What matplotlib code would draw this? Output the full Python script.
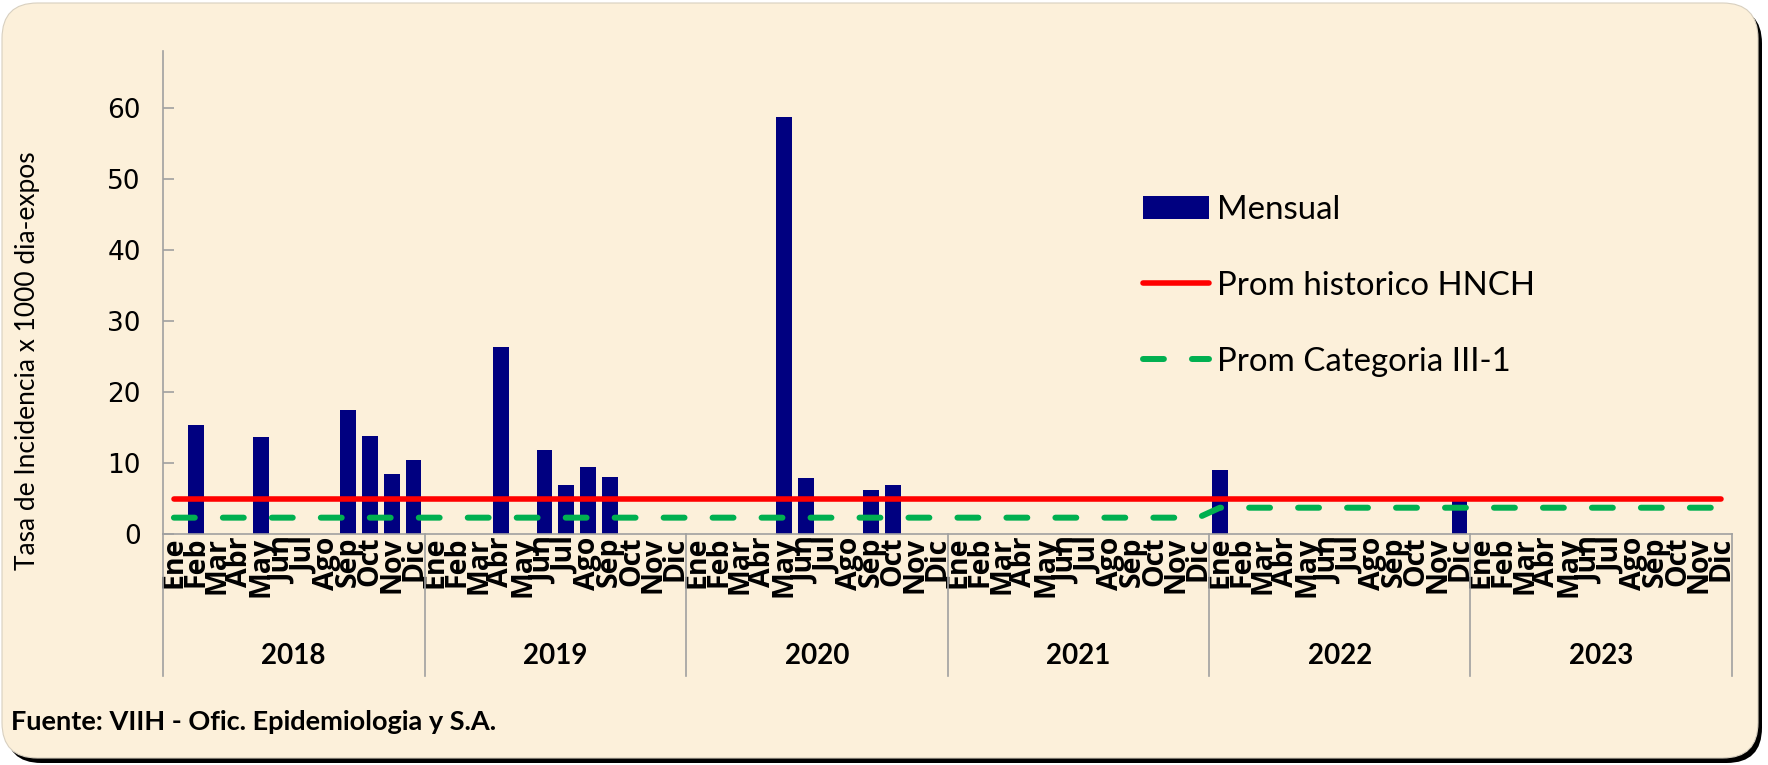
import matplotlib
matplotlib.use("Agg")
import matplotlib.pyplot as plt
from matplotlib.patches import FancyBboxPatch, Patch
from matplotlib.lines import Line2D
import matplotlib.transforms as mtransforms

# Data
years = ["2018", "2019", "2020", "2021", "2022", "2023"]
months = ["Ene", "Feb", "Mar", "Abr", "May", "Jun",
          "Jul", "Ago", "Sep", "Oct", "Nov", "Dic"]

mensual_2018 = [0, 15.4, 0, 0, 13.7, 0, 0, 0, 17.5, 13.8, 8.5, 10.4]
mensual_2019 = [0, 0, 0, 26.3, 0, 11.8, 6.9, 9.4, 8.0, 0, 0, 0]
mensual_2020 = [0, 0, 0, 0, 58.7, 7.9, 0, 0, 6.2, 6.9, 0, 0]
mensual_2021 = [0, 0, 0, 0, 0, 0, 0, 0, 0, 0, 0, 0]
mensual_2022 = [9.0, 0, 0, 0, 0, 0, 0, 0, 0, 0, 0, 5.0]
mensual_2023 = [0, 0, 0, 0, 0, 0, 0, 0, 0, 0, 0, 0]

prom_historico = [4.9] * 72
prom_categoria = [2.3] * 48 + [3.7] * 24

mensual = (mensual_2018 + mensual_2019 + mensual_2020 +
           mensual_2021 + mensual_2022 + mensual_2023)
labels = months * len(years)
x = list(range(len(mensual)))

W, H = 1768, 765
fig = plt.figure(figsize=(W / 100, H / 100), dpi=100)
fig.patch.set_facecolor("white")

# rounded parchment panel with a dark shadow
shadow = FancyBboxPatch((6 / W, 2 / H), 1756 / W, 755 / H,
                        boxstyle="round,pad=0,rounding_size=0.02",
                        transform=fig.transFigure, facecolor="black",
                        edgecolor="none", mutation_aspect=W / H, zorder=-20)
panel = FancyBboxPatch((2 / W, 7 / H), 1756 / W, 755 / H,
                       boxstyle="round,pad=0,rounding_size=0.02",
                       transform=fig.transFigure, facecolor="#FCF0DA",
                       edgecolor="#D8D0C0", linewidth=0.8,
                       mutation_aspect=W / H, zorder=-10)
fig.patches.extend([shadow, panel])

ax = fig.add_axes([163 / W, (H - 534) / H, (1732 - 163) / W, (534 - 51) / H])
ax.patch.set_alpha(0)

ax.bar(x, mensual, width=0.72, color="#000080", label="Mensual", zorder=2)
ax.plot(x, prom_historico, color="#FF0000", lw=4.0, solid_capstyle="round",
        label="Prom historico HNCH", zorder=3)
ax.plot(x, prom_categoria, color="#00B050", lw=4.3, dashes=(3.5, 4.7),
        dash_capstyle="round", label="Prom Categoria III-1", zorder=3)

ax.set_xlim(-0.5, len(x) - 0.5)
ax.set_ylim(0, 68)

for side in ["top", "right"]:
    ax.spines[side].set_visible(False)
for side in ["left", "bottom"]:
    ax.spines[side].set_color("#A0A0A0")
    ax.spines[side].set_linewidth(1.2)

ax.set_yticks([0, 10, 20, 30, 40, 50, 60])
ax.tick_params(axis="y", direction="in", length=8, width=1.2, color="#A0A0A0",
               labelsize=19, pad=16)
for t in ax.get_yticklabels():
    t.set_fontfamily("DejaVu Sans")

ax.set_xticks(x)
ax.set_xticklabels(labels, rotation=90, fontsize=20.5, fontweight="bold",
                   fontfamily="Open Sans", va="top", ha="center")
ax.tick_params(axis="x", length=0, pad=2)

# year group separators and labels
trans = mtransforms.blended_transform_factory(ax.transData, ax.transAxes)
sep_bottom = -(676 - 534) / (534 - 51)
for i in range(len(years) + 1):
    ax.plot([i * 12 - 0.5, i * 12 - 0.5], [0, sep_bottom], transform=trans,
            color="#A0A0A0", lw=1.2, clip_on=False)
for i, yr in enumerate(years):
    ax.text(i * 12 + 5.5, -(656 - 534) / (534 - 51), yr, transform=trans,
            ha="center", va="center", fontsize=20, fontweight="bold",
            fontfamily="Lato")

fig.text(28 / W, 1 - 361 / H, "Tasa de Incidencia x 1000 dia-expos",
         rotation=90, ha="center", va="center", fontsize=19, fontfamily="Lato")

fig.text(11 / W, 1 - 722 / H, "Fuente: VIIH - Ofic. Epidemiologia y S.A.",
         ha="left", va="center", fontsize=19.5, fontweight="bold", fontfamily="Lato")

handles = [Patch(facecolor="#000080"),
           Line2D([], [], color="#FF0000", lw=4.0, solid_capstyle="round"),
           Line2D([], [], color="#00B050", lw=4.3, dashes=(3.5, 4.7),
                  dash_capstyle="round")]
leg = fig.legend(handles, ["Mensual", "Prom historico HNCH", "Prom Categoria III-1"],
                 loc="upper left", bbox_to_anchor=(1143 / W, 1 - 195 / H),
                 frameon=False, prop={"family": "Lato", "size": 23.8},
                 handlelength=2.0, handletextpad=0.25, labelspacing=1.39,
                 borderpad=0, borderaxespad=0)

fig.savefig("out.png", dpi=100)
